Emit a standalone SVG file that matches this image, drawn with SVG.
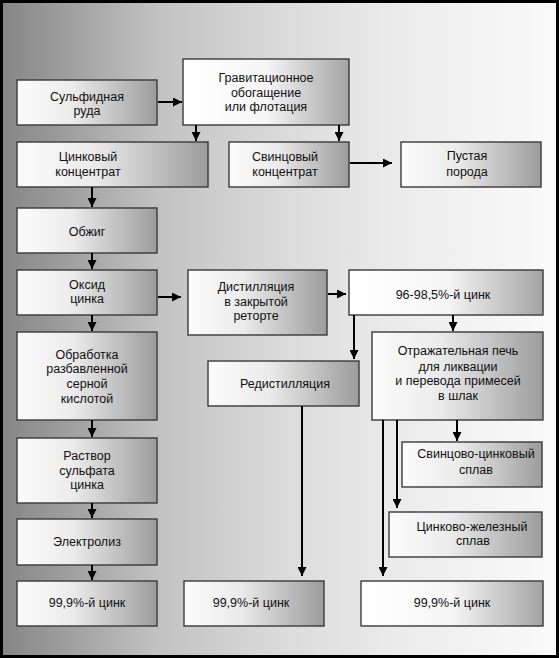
<svg xmlns="http://www.w3.org/2000/svg" width="559" height="658" viewBox="0 0 559 658">
<defs>
<linearGradient id="bg" x1="0" y1="0" x2="1" y2="0">
<stop offset="0" stop-color="#858585"/>
<stop offset="0.28" stop-color="#c2c2c2"/>
<stop offset="0.5" stop-color="#dadada"/>
<stop offset="0.72" stop-color="#ececec"/>
<stop offset="1" stop-color="#fafafa"/>
</linearGradient>
<linearGradient id="box" x1="0" y1="0" x2="1" y2="0">
<stop offset="0" stop-color="#fcfcfc"/>
<stop offset="0.4" stop-color="#ebebeb"/>
<stop offset="1" stop-color="#9c9c9c"/>
</linearGradient>
<linearGradient id="boxw" x1="0" y1="0" x2="1" y2="0">
<stop offset="0" stop-color="#ffffff"/>
<stop offset="0.5" stop-color="#f6f6f6"/>
<stop offset="1" stop-color="#a4a4a4"/>
</linearGradient>
<marker id="ah" viewBox="0 0 10 10" refX="10" refY="5" markerWidth="10" markerHeight="9" orient="auto" markerUnits="userSpaceOnUse">
<path d="M0,0 L10,5 L0,10 z" fill="#000"/>
</marker>
<style>
.b{fill:url(#box);stroke:#3a3a3a;stroke-width:1.4}
.w{fill:url(#boxw);stroke:#3a3a3a;stroke-width:1.4}
text{font-family:"Liberation Sans",Arial,sans-serif;font-size:12.5px;fill:#111;text-anchor:middle}
.c line{stroke:#000;stroke-width:2;marker-end:url(#ah)}
</style>
</defs>
<rect x="1.5" y="1.5" width="556" height="655" fill="url(#bg)" stroke="#000" stroke-width="3"/>

<g id="n-sulf"><rect class="b" x="17" y="80" width="140" height="45"/><text x="87" y="101">Сульфидная</text><text x="87" y="115">руда</text></g>
<g id="n-grav"><rect class="w" x="183" y="59" width="166" height="66"/><text x="266" y="82">Гравитационное</text><text x="266" y="97">обогащение</text><text x="266" y="111">или флотация</text></g>
<g id="n-zconc"><rect class="b" x="17" y="142" width="191" height="45"/><text x="88" y="161">Цинковый</text><text x="88" y="176">концентрат</text></g>
<g id="n-pbconc"><rect class="b" x="229" y="142" width="120" height="45"/><text x="285" y="161">Свинцовый</text><text x="285" y="176">концентрат</text></g>
<g id="n-waste"><rect class="b" x="401" y="142" width="140" height="45"/><text x="467" y="160">Пустая</text><text x="467" y="176">порода</text></g>
<g id="n-roast"><rect class="b" x="17" y="208" width="140" height="45"/><text x="87" y="236">Обжиг</text></g>
<g id="n-oxide"><rect class="b" x="17" y="270" width="140" height="45"/><text x="87" y="289">Оксид</text><text x="87" y="303">цинка</text></g>
<g id="n-acid"><rect class="b" x="17" y="332" width="140" height="88"/><text x="87" y="359">Обработка</text><text x="87" y="373">разбавленной</text><text x="87" y="388">серной</text><text x="87" y="403">кислотой</text></g>
<g id="n-dist"><rect class="b" x="188" y="270" width="139" height="65"/><text x="256" y="291">Дистилляция</text><text x="256" y="306">в закрытой</text><text x="256" y="320">реторте</text></g>
<g id="n-96"><rect class="w" x="349" y="270" width="194" height="45"/><text x="443" y="299">96-98,5%-й цинк</text></g>
<g id="n-furn"><rect class="b" x="372" y="332" width="171" height="88"/><text x="458" y="355">Отражательная печь</text><text x="458" y="371">для ликвации</text><text x="458" y="385">и перевода примесей</text><text x="458" y="400">в шлак</text></g>
<g id="n-redist"><rect class="b" x="208" y="361" width="151" height="45"/><text x="285" y="388">Редистилляция</text></g>
<g id="n-sol"><rect class="b" x="17" y="438" width="140" height="65"/><text x="87" y="460">Раствор</text><text x="87" y="475">сульфата</text><text x="87" y="489">цинка</text></g>
<g id="n-elec"><rect class="b" x="17" y="519" width="140" height="46"/><text x="87" y="546">Электролиз</text></g>
<g id="n-z1"><rect class="b" x="17" y="581" width="140" height="45"/><text x="87" y="607">99,9%-й цинк</text></g>
<g id="n-z2"><rect class="b" x="184" y="581" width="140" height="45"/><text x="251" y="607">99,9%-й цинк</text></g>
<g id="n-pbzn"><rect class="b" x="402" y="442" width="140" height="45"/><text x="476" y="458">Свинцово-цинковый</text><text x="476" y="474">сплав</text></g>
<g id="n-znfe"><rect class="b" x="389" y="512" width="153" height="45"/><text x="472" y="531">Цинково-железный</text><text x="473" y="545">сплав</text></g>
<g id="n-z3"><rect class="w" x="361" y="581" width="182" height="45"/><text x="452" y="607">99,9%-й цинк</text></g>

<g id="connectors" class="c">
<line x1="158" y1="102" x2="182" y2="102"/>
<line x1="196" y1="125" x2="196" y2="141"/>
<line x1="339" y1="125" x2="339" y2="141"/>
<line x1="350" y1="163" x2="392" y2="163"/>
<line x1="92" y1="187" x2="92" y2="207"/>
<line x1="92" y1="253" x2="92" y2="269"/>
<line x1="92" y1="315" x2="92" y2="331"/>
<line x1="92" y1="420" x2="92" y2="437"/>
<line x1="92" y1="503" x2="92" y2="518"/>
<line x1="92" y1="565" x2="92" y2="580"/>
<line x1="158" y1="297" x2="181" y2="297"/>
<line x1="328" y1="294" x2="346" y2="294"/>
<line x1="354" y1="315" x2="354" y2="359"/>
<line x1="453" y1="315" x2="453" y2="331"/>
<line x1="457" y1="420" x2="457" y2="441"/>
<line x1="397" y1="420" x2="397" y2="508"/>
<line x1="383" y1="420" x2="383" y2="576"/>
<line x1="302" y1="406" x2="302" y2="576"/>
</g>
</svg>
